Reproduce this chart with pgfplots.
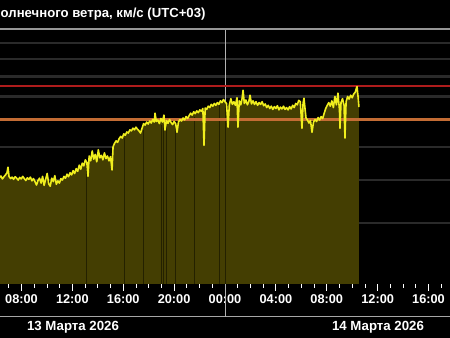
\documentclass[border=0pt]{standalone}
\usepackage{pgfplots}
\usepackage{pgfplotstable}
\pgfplotsset{compat=1.18}
\usepackage{fontspec}
\setmainfont{Liberation Sans}
\definecolor{olivefill}{RGB}{68,62,2}
\definecolor{darkline}{RGB}{36,33,0}
\definecolor{swyellow}{RGB}{240,238,30}
\definecolor{gridgray}{RGB}{42,42,42}
\definecolor{framegray}{RGB}{150,150,150}
\definecolor{redline}{RGB}{175,28,28}
\definecolor{orangeline}{RGB}{195,108,52}
\pgfplotstableread{
t v
5.90 412
6.02 404
6.14 415
6.26 407
6.38 411
6.50 403
6.62 409
6.74 414
6.86 420
6.94 436
7.02 410
7.14 404
7.26 408
7.38 402
7.50 409
7.62 405
7.74 400
7.86 407
7.98 403
8.10 410
8.22 404
8.34 399
8.46 406
8.58 402
8.70 408
8.82 398
8.94 404
9.06 396
9.18 387
9.30 399
9.42 405
9.54 392
9.66 410
9.78 386
9.90 402
10.02 418
10.14 390
10.26 384
10.38 405
10.50 396
10.62 412
10.74 389
10.86 398
10.98 392
11.10 404
11.22 400
11.34 410
11.46 405
11.58 416
11.70 409
11.82 420
11.94 414
12.06 426
12.18 418
12.30 432
12.42 424
12.54 442
12.66 430
12.78 448
12.90 440
13.02 458
13.14 450
13.23 410
13.32 470
13.44 455
13.56 486
13.68 460
13.80 475
13.92 452
14.04 490
14.16 464
14.28 472
14.40 458
14.52 480
14.64 462
14.76 470
14.88 455
15.00 468
15.12 428
15.20 500
15.32 512
15.44 520
15.56 515
15.68 528
15.80 536
15.92 530
16.04 545
16.16 540
16.28 552
16.40 548
16.52 560
16.64 556
16.76 566
16.88 560
17.00 570
17.12 562
17.24 556
17.36 548
17.48 566
17.60 584
17.72 578
17.84 590
17.96 582
18.08 594
18.20 586
18.32 600
18.44 590
18.50 626
18.60 592
18.72 598
18.84 584
18.96 604
19.08 590
19.20 618
19.28 559
19.40 596
19.52 585
19.64 600
19.76 588
19.88 580
20.00 592
20.12 584
20.23 551
20.34 590
20.46 600
20.58 594
20.70 606
20.82 598
20.94 612
21.06 604
21.18 616
21.30 626
21.42 618
21.54 632
21.66 624
21.78 636
21.90 628
22.02 640
22.14 634
22.26 646
22.35 505
22.44 648
22.56 642
22.68 656
22.80 650
22.92 664
23.04 656
23.16 668
23.28 660
23.40 672
23.52 664
23.64 680
23.76 672
23.88 686
24.00 676
24.12 668
24.24 570
24.34 662
24.46 690
24.58 664
24.70 676
24.82 660
24.94 694
25.02 570
25.12 680
25.24 662
25.34 690
25.42 730
25.52 668
25.64 684
25.76 662
25.88 678
25.97 706
26.08 666
26.20 680
26.32 664
26.44 676
26.56 660
26.68 672
26.80 664
26.92 676
27.04 658
27.16 666
27.28 650
27.40 660
27.52 646
27.64 656
27.76 642
27.88 654
28.00 646
28.12 658
28.24 640
28.36 652
28.48 644
28.60 656
28.72 642
28.84 650
28.96 640
29.08 654
29.20 644
29.32 660
29.44 650
29.56 668
29.68 662
29.80 682
29.92 676
30.05 566
30.14 670
30.21 692
30.30 640
30.37 606
30.48 598
30.60 586
30.72 596
30.84 551
30.96 590
31.08 600
31.20 592
31.32 608
31.44 598
31.56 612
31.68 604
31.80 626
31.92 646
32.04 660
32.16 672
32.28 656
32.40 680
32.52 650
32.64 700
32.76 662
32.88 716
33.00 640
33.04 566
33.12 672
33.24 690
33.36 660
33.43 530
33.52 676
33.64 700
33.76 688
33.88 706
34.00 694
34.12 712
34.24 720
34.32 738
34.38 748
34.46 700
34.53 652
}\windtable
\pgfplotstableread{
t v
13.07 440
16.08 530
17.58 560
19.02 580
19.16 585
19.42 580
20.12 570
21.59 610
23.55 660
24.05 660
}\gaptable
\begin{document}
\begin{tikzpicture}
\useasboundingbox (0,0) rectangle (450bp,338bp);
\clip (0,0) rectangle (450bp,338bp);
\fill[black] (0,0) rectangle (450bp,338bp);
\begin{axis}[
  at={(-5bp,54.4bp)}, anchor=south west,
  scale only axis, width=460bp, height=254.6bp,
  xmin=5.918, xmax=42.082,
  ymode=log, ymin=200, ymax=1100,
  axis line style={draw=none},
  ytick={300,400,500,600,700,800,900,1000},
  yticklabels={{},{},{},{},{},{},{},{}},
  ytick style={draw=none},
  ymajorgrids,
  y grid style={draw=gridgray, line width=2.1bp},
  xtick={8,12,...,40},
  xticklabels={08:00,12:00,16:00,20:00,00:00,04:00,08:00,12:00,16:00},
  minor xtick={6,7,...,42},
  xtick pos=bottom,
  tick align=outside,
  xtick style={white, line width=0.8bp},
  minor x tick style={white, line width=0.8bp},
  major tick length=7bp, minor tick length=4bp,
  xticklabel style={text=white, font=\bfseries\fontsize{12.8}{14}\selectfont, anchor=base, yshift=-12.7bp},
  clip=true,
]
\draw[gray!60, line width=1bp] (axis cs:24,200) -- (axis cs:24,1100);
\addplot[fill=olivefill, draw=none] table[x=t,y=v]{\windtable} \closedcycle;
\addplot[ycomb, draw=darkline, line width=0.7bp, mark=none] table[x=t,y=v]{\gaptable};
\addplot[draw=redline, line width=2.3bp, mark=none] coordinates {(5,750) (43,750)};
\addplot[draw=orangeline, line width=2.2bp, mark=none] coordinates {(5,600) (43,600)};
\addplot[draw=swyellow, line width=1.6bp, line join=round, mark=none] table[x=t,y=v]{\windtable};
\draw[framegray, line width=1.2bp] (rel axis cs:0,1) -- (rel axis cs:1,1);
\end{axis}
\draw[framegray!85, line width=1bp] (0,21bp) -- (450bp,21bp);
\draw[gray!60, line width=1bp] (225bp,21bp) -- (225bp,54.4bp);
\node[anchor=base west, text=white, font=\bfseries\fontsize{13.2}{16}\selectfont, inner sep=0pt] at (0.5bp,320.7bp) {олнечного ветра, км/с (UTC+03)};
\node[anchor=base, text=white, font=\bfseries\fontsize{13.3}{15}\selectfont, inner sep=0pt] at (73bp,8bp) {13 Марта 2026};
\node[anchor=base, text=white, font=\bfseries\fontsize{13.3}{15}\selectfont, inner sep=0pt] at (378bp,8bp) {14 Марта 2026};
\end{tikzpicture}
\end{document}
